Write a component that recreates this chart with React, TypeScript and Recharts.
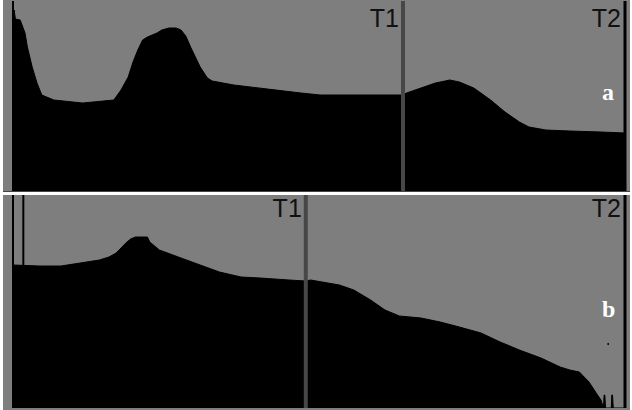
import React from 'react';
import { AreaChart, Area, XAxis, YAxis, ReferenceLine, ReferenceDot } from 'recharts';

// Gray-level histograms: panel a and panel b, thresholds T1 / T2

const levelsA = [0, 0.5, 1, 3, 5, 6, 8, 10, 12, 17, 29, 42, 45, 48, 50, 52, 54, 56, 60, 62, 65, 68, 70, 72, 74, 76, 78, 81, 83, 92, 106, 120, 128, 162, 164, 170, 176, 182, 186, 192, 199, 205, 211, 215, 222, 232, 245, 255];
const countsA = [173, 181, 172, 171, 158, 144, 124, 108, 96, 91, 88, 91, 101, 114, 129, 141, 151, 154, 158, 161, 163, 163, 161, 155, 144, 134, 124, 113, 110, 106, 102, 98, 96, 96, 98, 103, 108, 111, 109, 103, 91, 79, 69, 64, 61, 60, 59, 58];

const levelsB = [0, 11, 20, 28, 36, 40, 43, 45, 47, 49, 51, 56, 57, 61, 70, 78, 86, 95, 103, 115, 122, 124, 136, 142, 149, 155, 161, 170, 178, 186, 195, 203, 211, 220, 228, 232, 236, 240, 243, 245, 246, 246.3, 246.6, 246.9, 249.3, 249.5, 249.8, 250.1, 255];
const countsB = [143, 142, 142, 145, 148, 151, 155, 160, 165, 169, 171, 171, 166, 158, 150, 143, 136, 131, 130, 128, 127, 128, 123, 118, 108, 98, 92, 90, 86, 81, 75, 66, 58, 50, 41, 38, 36, 26, 15, 8, 0, 13, 13, 0, 0, 13, 13, 0, 0];

const T1_A = 162.5;
const T1_B = 122;
const T2 = 255;

const BG = '#7e7e7e';
const LINE_GRAY = '#474747';

const dataA = levelsA.map((level, i) => ({ level, count: countsA[i] }));
const dataB = levelsB.map((level, i) => ({ level, count: countsB[i] }));

const LineTag = ({ viewBox, text, dx, dy, letter, letterDx, letterDy }: any) => {
  if (!viewBox) return null;
  return (
    <g>
      <text
        x={viewBox.x + dx}
        y={viewBox.y + dy}
        textAnchor="end"
        fill="#111"
        fontFamily="'Liberation Sans', Arial, sans-serif"
        fontSize={25}
      >
        {text}
      </text>
      {letter && (
        <text
          x={viewBox.x + letterDx}
          y={viewBox.y + letterDy}
          fill="#fff"
          fontFamily="'Liberation Serif', 'Times New Roman', serif"
          fontWeight="bold"
          fontSize={24}
        >
          {letter}
        </text>
      )}
    </g>
  );
};

interface PanelProps {
  data: { level: number; count: number }[];
  height: number;
  yMax: number;
  t1: number;
  t1Dx: number;
  tagDy: number;
  letter: string;
  letterDy: number;
  leftLines: number[];
  children?: React.ReactNode;
}

const Panel = ({ data, height, yMax, t1, t1Dx, tagDy, letter, letterDy, leftLines, children }: PanelProps) => (
  <AreaChart width={627} height={height} data={data} margin={{ top: 0, right: 5, bottom: 0, left: 10 }}>
    <XAxis dataKey="level" type="number" domain={[0, 255]} hide allowDataOverflow />
    <YAxis type="number" domain={[0, yMax]} hide allowDataOverflow />
    <Area
      type="linear"
      dataKey="count"
      stroke="#000"
      strokeWidth={1}
      fill="#000"
      fillOpacity={1}
      dot={false}
      activeDot={false}
      isAnimationActive={false}
    />
    {leftLines.map((x) => (
      <ReferenceLine key={x} x={x} stroke="#000" strokeWidth={2} />
    ))}
    <ReferenceLine
      x={t1}
      stroke={LINE_GRAY}
      strokeWidth={4}
      label={<LineTag text="T1" dx={t1Dx} dy={tagDy} />}
    />
    <ReferenceLine
      x={T2}
      stroke="#000"
      strokeWidth={3}
      label={<LineTag text="T2" dx={-4} dy={tagDy} letter={letter} letterDx={-23} letterDy={letterDy} />}
    />
    {children}
  </AreaChart>
);

export default function App() {
  return (
    <div style={{ position: 'absolute', left: 0, top: 0, width: 632, height: 410, background: '#fff', overflow: 'hidden' }}>
      <div style={{ position: 'absolute', left: 3, top: 0, width: 627, height: 191, background: BG, borderBottom: '1px solid #444' }}>
        <div style={{ position: 'absolute', left: 0, top: 1 }}>
          <Panel
            data={dataA}
            height={190}
            yMax={190}
            t1={T1_A}
            t1Dx={-4}
            tagDy={26}
            letter="a"
            letterDy={99}
            leftLines={[0]}
          />
        </div>
      </div>
      <div style={{ position: 'absolute', left: 3, top: 195, width: 627, height: 215, background: BG }}>
        <Panel
          data={dataB}
          height={213}
          yMax={213}
          t1={T1_B}
          t1Dx={-4}
          tagDy={22}
          letter="b"
          letterDy={122}
          leftLines={[0, 4.3]}
        >
          <ReferenceDot x={248} y={64} r={1} fill="#000" stroke="none" />
        </Panel>
      </div>
    </div>
  );
}
